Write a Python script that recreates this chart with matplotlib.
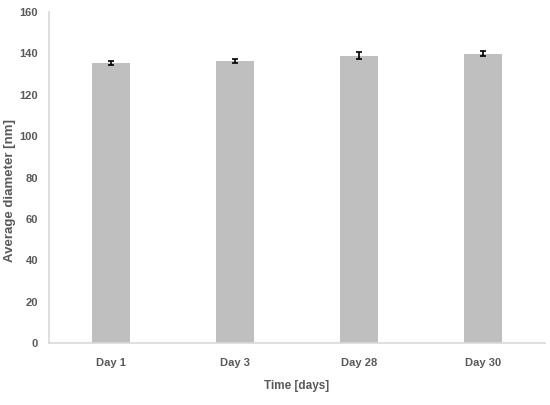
import matplotlib.pyplot as plt
import numpy as np

# data
days = ["Day 1", "Day 3", "Day 28", "Day 30"]
diameter = [135.3, 136.3, 138.9, 139.8]
diameter_err = [0.8, 0.9, 1.6, 1.2]

plt.rcParams["font.family"] = ["Liberation Sans", "DejaVu Sans"]
text_color = "#595959"

fig = plt.figure(figsize=(5.5, 4.05), dpi=100)
ax = fig.add_axes([49 / 550, 1 - 343 / 405, 496 / 550, 331 / 405])

x = np.arange(len(days))
ax.bar(x, diameter, width=0.31, color="#bfbfbf",
       yerr=diameter_err, capsize=2.5,
       error_kw=dict(ecolor="black", elinewidth=1.2, capthick=1.2))

ax.set_xlim(-0.5, len(days) - 0.5)
ax.set_ylim(0, 160)
ax.set_yticks(np.arange(0, 161, 20))
ax.set_xticks(x)
ax.set_xticklabels(days)

for side in ["top", "right"]:
    ax.spines[side].set_visible(False)
for side in ["left", "bottom"]:
    ax.spines[side].set_color("#d9d9d9")
    ax.spines[side].set_linewidth(1.2)

ax.tick_params(axis="both", length=0, colors=text_color, labelsize=8)
ax.tick_params(axis="x", pad=11)
ax.tick_params(axis="y", pad=8)
for lab in ax.get_xticklabels() + ax.get_yticklabels():
    lab.set_fontweight("bold")

ax.set_xlabel("Time [days]", color=text_color, fontsize=8.5, fontweight="bold")
ax.xaxis.set_label_coords(0.5, -0.13)
ax.xaxis.label.set_va("center")
ax.set_ylabel("Average diameter [nm]", color=text_color, fontsize=9.5,
              fontweight="bold")
ax.yaxis.set_label_coords(-0.078, 0.46)
ax.yaxis.label.set_va("center")

plt.savefig("out.png", dpi=100)
